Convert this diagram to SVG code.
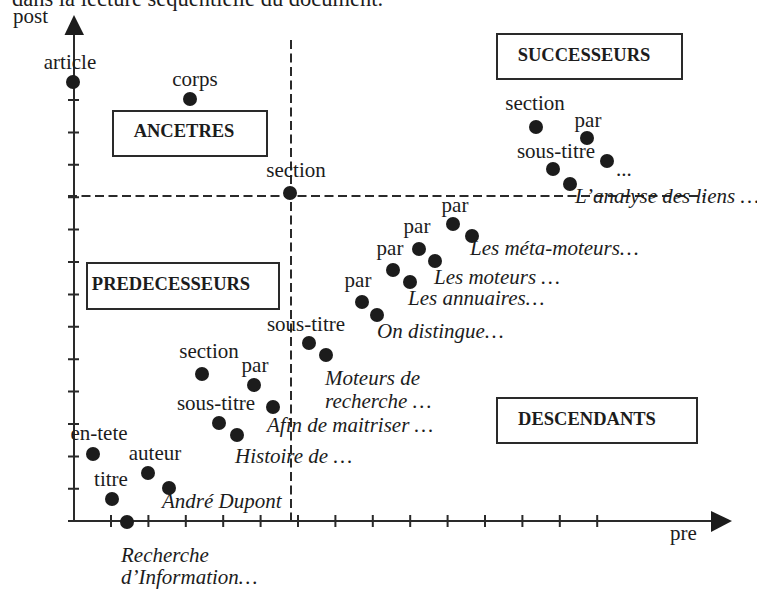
<svg xmlns="http://www.w3.org/2000/svg" width="757" height="589" viewBox="0 0 757 589">
<style>
text{font-family:"Liberation Serif","Times New Roman",serif;fill:#1c1c1c}
.l{font-size:21px;text-anchor:middle}
.i{font-size:21px;font-style:italic}
.b{font-size:18.5px;font-weight:bold;text-anchor:middle}
.r{font-size:21px}
.dot{fill:#1c1c1c}
.box{fill:#fff;stroke:#2a2a2a;stroke-width:2}
.ax{stroke:#2a2a2a;stroke-width:2;fill:none}
.dash{stroke:#2a2a2a;stroke-width:2;fill:none;stroke-dasharray:9 4.5}
</style>
<rect width="757" height="589" fill="#fff"/>
<text class="r" x="12" y="6" style="font-size:22.5px">dans la lecture séquentielle du document.</text>
<g id="axes">
<path class="dash" d="M291 40V521"/>
<path class="dash" d="M68 196H705"/>
<path class="ax" d="M74 33V522M68 521H712"/>
<polygon points="74,15 64.5,35 84,35" fill="#1c1c1c"/>
<polygon points="711,511 732,521 711,532" fill="#1c1c1c"/>
<path class="ax" d="M68 100H79M68 132.4H79M68 164.8H79M68 197.2H79M68 229.6H79M68 262H79M68 294.4H79M68 326.8H79M68 359.2H79M68 391.6H79M68 424H79M68 456.4H79M68 488.8H79"/>
<path class="ax" d="M111 515V527M148.4 515V527M185.8 515V527M223.2 515V527M260.6 515V527M298 515V527M335.4 515V527M372.8 515V527M410.2 515V527M447.6 515V527M485 515V527M522.4 515V527M559.8 515V527M597.2 515V527"/>
<text class="r" x="13" y="23">post</text>
<text class="r" x="670" y="540">pre</text>
</g>
<g id="box-ancetres"><rect class="box" x="113" y="111" width="154" height="45"/><text class="b" x="184" y="137">ANCETRES</text></g>
<g id="box-successeurs"><rect class="box" x="497" y="34" width="185" height="45"/><text class="b" x="584" y="61">SUCCESSEURS</text></g>
<g id="box-predecesseurs"><rect class="box" x="87" y="263" width="192" height="46"/><text class="b" x="171" y="290">PREDECESSEURS</text></g>
<g id="box-descendants"><rect class="box" x="497" y="398" width="200" height="45"/><text class="b" x="587" y="425">DESCENDANTS</text></g>
<g id="n-article"><circle class="dot" cx="73" cy="82" r="7"/><text class="l" x="70" y="69">article</text></g>
<g id="n-corps"><circle class="dot" cx="190" cy="99" r="7"/><text class="l" x="195" y="86">corps</text></g>
<g id="n-section-mid"><circle class="dot" cx="290" cy="193" r="7"/><text class="l" x="296" y="177">section</text></g>
<g id="n-section-right"><circle class="dot" cx="536" cy="127" r="7"/><text class="l" x="535" y="110">section</text></g>
<g id="n-par-right"><circle class="dot" cx="587" cy="138" r="7"/><text class="l" x="588" y="127">par</text></g>
<g id="n-soustitre-right"><circle class="dot" cx="553" cy="169" r="7"/><text class="l" x="556" y="158">sous-titre</text></g>
<g id="n-dots-right"><circle class="dot" cx="607" cy="161" r="7"/><text class="r" x="616" y="176">...</text></g>
<g id="n-analyse"><circle class="dot" cx="570" cy="184" r="7"/><text class="i" x="575" y="203">L’analyse des liens …</text></g>
<g id="n-par4"><circle class="dot" cx="453" cy="224" r="7"/><text class="l" x="455" y="212">par</text></g>
<g id="n-meta"><circle class="dot" cx="472" cy="236" r="7"/><text class="i" x="470" y="255">Les méta-moteurs…</text></g>
<g id="n-par3"><circle class="dot" cx="419" cy="249" r="7"/><text class="l" x="417" y="233">par</text></g>
<g id="n-moteurs"><circle class="dot" cx="435" cy="261" r="7"/><text class="i" x="434" y="284">Les moteurs …</text></g>
<g id="n-par2"><circle class="dot" cx="393" cy="270" r="7"/><text class="l" x="390" y="255">par</text></g>
<g id="n-annuaires"><circle class="dot" cx="410" cy="282" r="7"/><text class="i" x="408" y="305">Les annuaires…</text></g>
<g id="n-par1"><circle class="dot" cx="362" cy="302" r="7"/><text class="l" x="358" y="287">par</text></g>
<g id="n-distingue"><circle class="dot" cx="377" cy="315" r="7"/><text class="i" x="377" y="338">On distingue…</text></g>
<g id="n-soustitre-mid"><circle class="dot" cx="309" cy="343" r="7"/><text class="l" x="306" y="331">sous-titre</text></g>
<g id="n-moteurs-recherche"><circle class="dot" cx="326" cy="355" r="7"/><text class="i" x="325" y="385">Moteurs de</text><text class="i" x="325" y="408">recherche …</text></g>
<g id="n-section-left"><circle class="dot" cx="202" cy="374" r="7"/><text class="l" x="209" y="358">section</text></g>
<g id="n-par-left"><circle class="dot" cx="254" cy="385" r="7"/><text class="l" x="255" y="372">par</text></g>
<g id="n-afin"><circle class="dot" cx="273" cy="407" r="7"/><text class="i" x="267" y="432">Afin de maitriser …</text></g>
<g id="n-soustitre-left"><circle class="dot" cx="219" cy="423" r="7"/><text class="l" x="216" y="410">sous-titre</text></g>
<g id="n-histoire"><circle class="dot" cx="237" cy="435" r="7"/><text class="i" x="235" y="463">Histoire de …</text></g>
<g id="n-entete"><circle class="dot" cx="93" cy="454" r="7"/><text class="l" x="99" y="440">en-tete</text></g>
<g id="n-auteur"><circle class="dot" cx="148" cy="473" r="7"/><text class="l" x="155" y="460">auteur</text></g>
<g id="n-dupont"><circle class="dot" cx="169" cy="488" r="7"/><text class="i" x="162" y="508">André Dupont</text></g>
<g id="n-titre"><circle class="dot" cx="112" cy="499" r="7"/><text class="l" x="111" y="486">titre</text></g>
<g id="n-recherche"><circle class="dot" cx="127" cy="522" r="7"/><text class="i" x="121" y="562">Recherche</text><text class="i" x="121" y="584">d’Information…</text></g>
</svg>
